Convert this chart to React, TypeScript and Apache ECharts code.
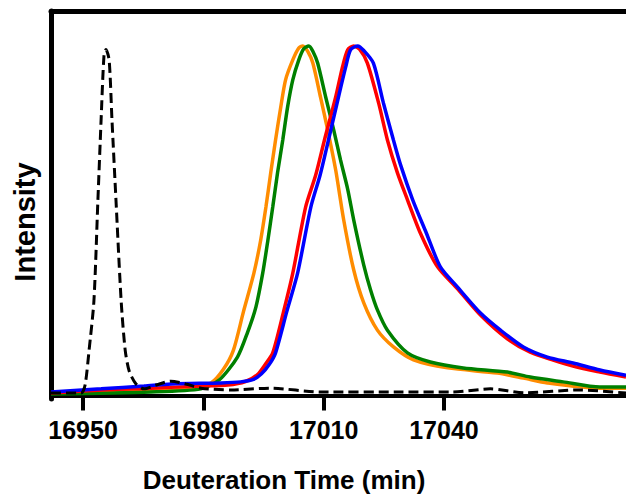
import React, { useEffect, useRef } from "react";
import * as echarts from "echarts";

const xTicks = [16950, 16980, 17010, 17040];

const dashX = [16942, 16949.5, 16950.5, 16951.5, 16952.7, 16953.7, 16954.5, 16955.2, 16955.7, 16956.5, 16957.2, 16958.2, 16959.5, 16960.5, 16961.5, 16963.2, 16965.2, 16968.2, 16971.9, 16975.6, 16979.4, 16986.8, 16996.8, 17009.2, 17029, 17042, 17051.6, 17060, 17074, 17085.4];
const dashY = [0.007, 0.007, 0.03, 0.13, 0.27, 0.56, 0.79, 0.97, 0.99, 0.96, 0.79, 0.56, 0.27, 0.13, 0.07, 0.033, 0.019, 0.03, 0.041, 0.033, 0.021, 0.016, 0.021, 0.01, 0.01, 0.01, 0.019, 0.008, 0.016, 0.007];

const orangeX = [16942, 16966.9, 16976.9, 16981.9, 16985.0, 16987.5, 16990.0, 16992.6, 16994.3, 16995.6, 16996.8, 16998.0, 16999.3, 17000.5, 17002.3, 17003.8, 17004.8, 17006.0, 17007.3, 17009.2, 17011.0, 17013.0, 17015.0, 17017.5, 17020.0, 17023.4, 17027.4, 17032.4, 17040.9, 17053.3, 17059.8, 17065.8, 17078.9, 17085.4];
const orangeY = [0.007, 0.013, 0.021, 0.036, 0.075, 0.13, 0.24, 0.35, 0.445, 0.539, 0.637, 0.731, 0.825, 0.903, 0.96, 0.994, 1.0, 0.985, 0.951, 0.854, 0.76, 0.645, 0.502, 0.359, 0.265, 0.187, 0.139, 0.102, 0.079, 0.064, 0.05, 0.036, 0.021, 0.021];

const greenX = [16942, 16966.9, 16979.4, 16984.0, 16988.5, 16991.0, 16993.1, 16994.8, 16996.1, 16997.3, 16998.5, 16999.8, 17001.0, 17002.3, 17003.8, 17005.0, 17006.3, 17007.3, 17008.5, 17010.5, 17012.5, 17014.2, 17016.0, 17017.5, 17020.0, 17021.7, 17023.4, 17025.9, 17030.9, 17036.6, 17044.8, 17055.8, 17061.5, 17069.7, 17078.9, 17085.4];
const greenY = [0.004, 0.01, 0.019, 0.045, 0.11, 0.18, 0.253, 0.35, 0.445, 0.539, 0.637, 0.731, 0.825, 0.903, 0.96, 0.991, 1.0, 0.985, 0.951, 0.854, 0.76, 0.674, 0.59, 0.502, 0.373, 0.302, 0.245, 0.187, 0.122, 0.096, 0.079, 0.067, 0.053, 0.039, 0.024, 0.024];

const redX = [16942, 16954.5, 16966.9, 16979.4, 16986.1, 16990.5, 16993.5, 16995.5, 16997.3, 17000.0, 17002.3, 17005.5, 17008.0, 17010.2, 17013.0, 17014.7, 17016.0, 17017.5, 17019.0, 17020.9, 17023.7, 17025.9, 17028.4, 17030.9, 17034.1, 17038.4, 17043.4, 17049.1, 17055.8, 17061.5, 17072.2, 17078.9, 17085.4];
const redY = [0.007, 0.016, 0.021, 0.027, 0.03, 0.04, 0.06, 0.09, 0.122, 0.24, 0.35, 0.539, 0.63, 0.731, 0.854, 0.94, 0.989, 1.0, 0.99, 0.951, 0.837, 0.731, 0.637, 0.56, 0.465, 0.368, 0.305, 0.23, 0.162, 0.124, 0.084, 0.067, 0.053];

const blueX = [16942, 16954.5, 16965.2, 16971.9, 16984.4, 16989.3, 16992.5, 16994.5, 16996.5, 16998.0, 17000.8, 17003.5, 17006.8, 17009.1, 17011.2, 17013.7, 17015.5, 17016.7, 17018.5, 17020.0, 17022.4, 17024.9, 17027.4, 17029.2, 17032.2, 17035.6, 17039.1, 17043.4, 17049.1, 17054.1, 17059.8, 17065.8, 17072.2, 17078.9, 17085.4];
const blueY = [0.01, 0.019, 0.027, 0.033, 0.036, 0.039, 0.046, 0.062, 0.09, 0.122, 0.24, 0.35, 0.539, 0.63, 0.731, 0.854, 0.94, 0.989, 1.0, 0.987, 0.951, 0.837, 0.731, 0.659, 0.56, 0.465, 0.368, 0.31, 0.236, 0.187, 0.139, 0.11, 0.093, 0.073, 0.058];

const zip = (xs: number[], ys: number[]) => xs.map((x, i) => [x, ys[i]]);

const FONT = "'Liberation Sans', Arial, Helvetica, sans-serif";

export default function App() {
  const ref = useRef<HTMLDivElement>(null);
  useEffect(() => {
    if (!ref.current) return;
    const chart = echarts.init(ref.current, null, { renderer: "svg" });
    const line = (name: string, xs: number[], ys: number[], color: string, dashed = false) => ({
      name,
      type: "line",
      data: zip(xs, ys),
      showSymbol: false,
      smooth: 0.25,
      lineStyle: dashed
        ? { color, width: 3, type: [10, 5] }
        : { color, width: 3.5 },
      z: dashed ? 5 : 3,
    });
    chart.setOption({
      animation: false,
      backgroundColor: "#ffffff",
      grid: { left: 51, right: 0, top: 11, bottom: 95 },
      xAxis: [
        {
          type: "value",
          min: 16942,
          max: 17085.4,
          axisLine: { show: true, lineStyle: { color: "#000", width: 4 } },
          axisTick: {
            show: true,
            length: 15,
            lineStyle: { color: "#000", width: 4 },
            customValues: xTicks,
          },
          axisLabel: {
            customValues: xTicks,
            formatter: (v: number) => String(v),
            color: "#000",
            fontSize: 25,
            fontWeight: "bold",
            fontFamily: FONT,
            margin: 18,
          },
          splitLine: { show: false },
        },
        {
          type: "value",
          position: "top",
          min: 16942,
          max: 17085.4,
          axisLine: { show: true, lineStyle: { color: "#000", width: 5 } },
          axisTick: { show: false },
          axisLabel: { show: false },
          splitLine: { show: false },
        },
      ],
      yAxis: {
        type: "value",
        min: -0.01,
        max: 1.1,
        axisLine: { show: true, lineStyle: { color: "#000", width: 5 } },
        axisTick: { show: false },
        axisLabel: { show: false },
        splitLine: { show: false },
      },
      graphic: [
        {
          type: "text",
          x: 25,
          y: 222,
          rotation: Math.PI / 2,
          style: {
            text: "Intensity",
            fontSize: 29,
            fontWeight: "bold",
            fontFamily: FONT,
            fill: "#000",
            textAlign: "center",
            textVerticalAlign: "middle",
          },
        },
        {
          type: "text",
          x: 284,
          y: 480,
          style: {
            text: "Deuteration Time (min)",
            fontSize: 26,
            fontWeight: "bold",
            fontFamily: FONT,
            fill: "#000",
            textAlign: "center",
            textVerticalAlign: "middle",
          },
        },
      ],
      series: [
        line("Orange", orangeX, orangeY, "#FF8C00"),
        line("Green", greenX, greenY, "#008000"),
        line("Red", redX, redY, "#FF0000"),
        line("Blue", blueX, blueY, "#0000FF"),
        line("Reference", dashX, dashY, "#000000", true),
      ],
    });
    return () => chart.dispose();
  }, []);
  return (
    <div
      ref={ref}
      style={{ position: "fixed", left: 0, top: 0, width: 626, height: 494 }}
    />
  );
}
